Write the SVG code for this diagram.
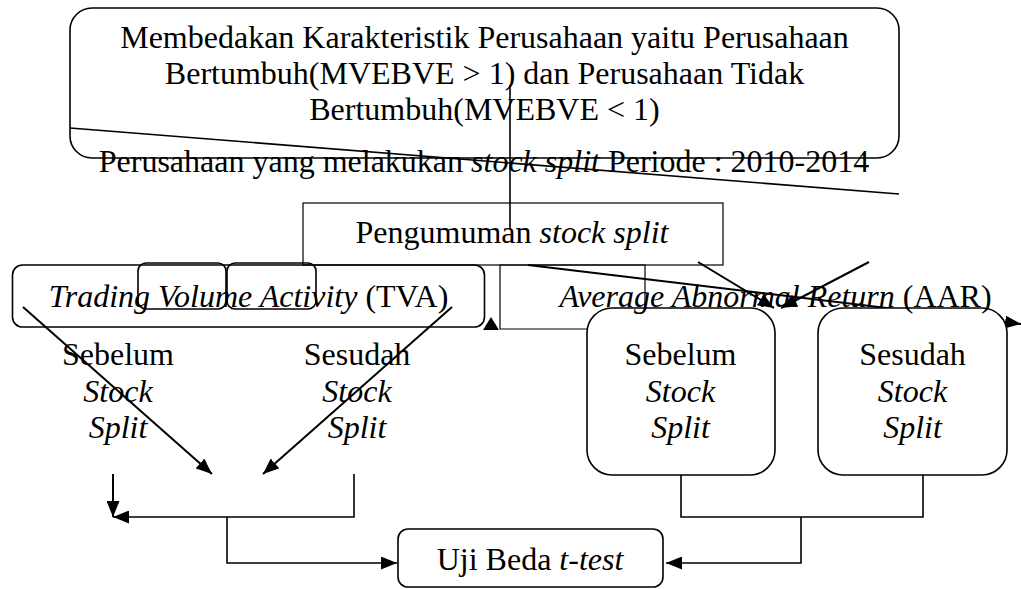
<svg xmlns="http://www.w3.org/2000/svg" width="1021" height="589" viewBox="0 0 1021 589">
<style>
text{font-family:"Liberation Serif","Times New Roman",serif;font-size:32px;fill:#000}
.c{text-anchor:middle}
.i{font-style:italic}
.box{fill:none;stroke:#000;stroke-width:1.6}
.wbox{fill:#fff;stroke:#000;stroke-width:1.6}
.thin{fill:none;stroke:#000;stroke-width:1.2}
.ln{fill:none;stroke:#000;stroke-width:1.6}
.dl{fill:none;stroke:#000;stroke-width:2}
</style>
<defs>
<marker id="ah" viewBox="0 0 16 13" refX="16" refY="6.5" markerUnits="userSpaceOnUse" markerWidth="16" markerHeight="13" orient="auto">
<path d="M0,0 L16,6.5 L0,13 z" fill="#000"/>
</marker>
</defs>

<g id="node-karakteristik">
<rect class="box" x="70" y="8" width="829" height="150" rx="22"/>
<text class="c" x="484.5" y="48">Membedakan Karakteristik Perusahaan yaitu Perusahaan</text>
<text class="c" x="484.5" y="84">Bertumbuh(MVEBVE &gt; 1) dan Perusahaan Tidak</text>
<text class="c" x="484.5" y="120">Bertumbuh(MVEBVE &lt; 1)</text>
</g>

<g id="node-periode">
<text class="c" x="484" y="172">Perusahaan yang melakukan <tspan class="i">stock split</tspan> Periode : 2010-2014</text>
</g>

<g id="node-pengumuman">
<rect class="thin" x="303" y="203" width="420" height="62"/>
<text class="c" x="512" y="243">Pengumuman <tspan class="i">stock split</tspan></text>
</g>

<g id="node-tva">
<rect class="box" x="12.5" y="265" width="472" height="62" rx="10"/>
<rect class="box" x="138" y="263" width="88" height="46" rx="8"/>
<rect class="box" x="227" y="263" width="89" height="46" rx="8"/>
<text class="c" x="248.5" y="307"><tspan class="i">Trading Volume Activity</tspan> (TVA)</text>
</g>

<g id="node-tva-sebelum">
<text class="c" x="118" y="365">Sebelum</text>
<text class="c i" x="118" y="402">Stock</text>
<text class="c i" x="118" y="438">Split</text>
</g>

<g id="node-tva-sesudah">
<text class="c" x="357" y="365">Sesudah</text>
<text class="c i" x="357" y="402">Stock</text>
<text class="c i" x="357" y="438">Split</text>
</g>

<g id="connectors">
<line class="ln" x1="70" y1="128" x2="899" y2="194"/>
<line class="ln" x1="510" y1="85" x2="510" y2="230"/>
<line class="dl" x1="528" y1="265" x2="1021" y2="324" marker-end="url(#ah)"/>
<line class="dl" x1="698" y1="262" x2="774" y2="308" marker-end="url(#ah)"/>
<line class="dl" x1="869" y1="262" x2="781" y2="308" marker-end="url(#ah)"/>
<polygon points="483,330 491,317 499,330" fill="#000"/>
<line class="dl" x1="23" y1="307" x2="212" y2="474" marker-end="url(#ah)"/>
<line class="dl" x1="452" y1="307" x2="263" y2="474" marker-end="url(#ah)"/>
<line class="dl" x1="113" y1="474" x2="113" y2="517" marker-end="url(#ah)"/>
<polyline class="ln" points="354,474 354,517 113,517" marker-end="url(#ah)"/>
<polyline class="ln" points="227,517 227,563 397,563" marker-end="url(#ah)"/>
<polyline class="ln" points="681,475 681,517 923,517 923,475"/>
<polyline class="ln" points="801,517 801,563 666,563" marker-end="url(#ah)"/>
</g>

<g id="node-aar-sebelum">
<rect class="wbox" x="587" y="308" width="188" height="167" rx="25"/>
<text class="c" x="680.5" y="365">Sebelum</text>
<text class="c i" x="680.5" y="402">Stock</text>
<text class="c i" x="680.5" y="438">Split</text>
</g>

<g id="node-aar-sesudah">
<rect class="wbox" x="818" y="308" width="189" height="167" rx="25"/>
<text class="c" x="912.5" y="365">Sesudah</text>
<text class="c i" x="912.5" y="402">Stock</text>
<text class="c i" x="912.5" y="438">Split</text>
</g>

<g id="node-aar">
<path class="thin" d="M587,329 H500 V265 H645 V308"/>
<text class="c" x="775.5" y="307"><tspan class="i">Average Abnormal Return</tspan> (AAR)</text>
</g>

<g id="node-uji">
<rect class="box" x="398" y="529" width="265" height="58" rx="10"/>
<text class="c" x="530" y="570">Uji Beda <tspan class="i">t-test</tspan></text>
</g>
</svg>
